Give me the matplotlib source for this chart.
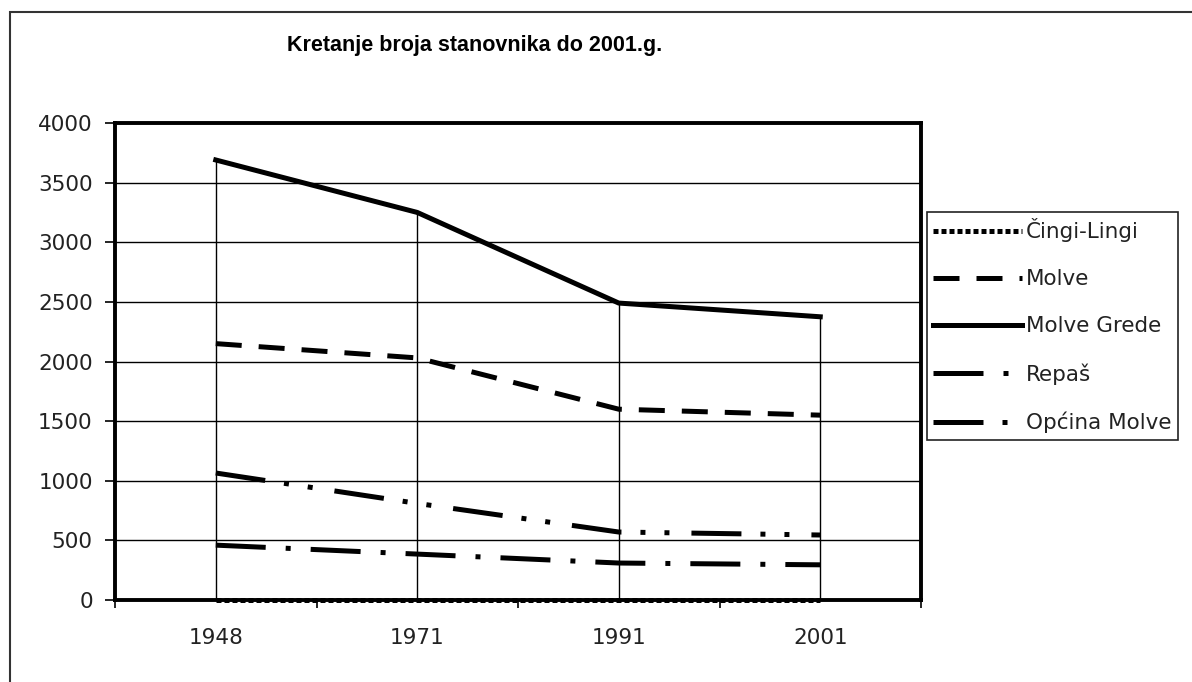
import matplotlib.pyplot as plt
from matplotlib.patches import Rectangle
import numpy as np

plt.rcParams['font.family'] = ['DejaVu Sans']

years = ['1948', '1971', '1991', '2001']
cingi_lingi = [3, 3, 3, 3]
molve = [2150, 2030, 1600, 1550]
molve_grede = [3690, 3250, 2490, 2375]
repas = [460, 385, 310, 295]
opcina_molve = [1065, 810, 570, 545]

fig = plt.figure(figsize=(11.92, 6.82), dpi=100)
fig.patches.append(Rectangle((10 / 1192, -0.1), 1.2, 1 - 12 / 682 + 0.1,
                             transform=fig.transFigure, fill=False,
                             edgecolor='#333333', linewidth=1.5))

ax = fig.add_axes([115 / 1192, 1 - 600 / 682, (921 - 115) / 1192, (600 - 123) / 682])
x = np.arange(len(years))

# grid and drop lines
for v in range(500, 4000, 500):
    ax.axhline(v, color='black', linewidth=1, zorder=1)
tops = np.max([cingi_lingi, molve, molve_grede, repas, opcina_molve], axis=0)
ax.vlines(x, 0, tops, color='black', linewidth=1, zorder=1)

lw = 3.6
ax.plot(x, cingi_lingi, color='black', linewidth=lw, linestyle=(0, (1, 0.6)),
        label='Čingi-Lingi', zorder=3, clip_on=False)
ax.plot(x, molve, color='black', linewidth=lw, linestyle=(0, (5.2, 3.4)),
        label='Molve', zorder=3)
ax.plot(x, molve_grede, color='black', linewidth=lw, linestyle='-',
        label='Molve Grede', zorder=3)
ax.plot(x, repas, color='black', linewidth=lw, linestyle=(0, (10, 4, 1, 4)),
        label='Repaš', zorder=3)
ax.plot(x, opcina_molve, color='black', linewidth=lw,
        linestyle=(0, (10, 3.8, 1, 3.8, 1, 4.4)), label='Općina Molve', zorder=3)

ax.set_xlim(-0.5, 3.5)
ax.set_ylim(0, 4000)
ax.set_yticks(np.arange(0, 4001, 500))
ax.set_xticks(x)
ax.set_xticklabels(years)
ax.set_xticks(np.arange(-0.5, 3.6, 1), minor=True)
ax.tick_params(axis='x', which='major', length=0, pad=20, labelsize=15.5,
               labelcolor='#222222')
ax.tick_params(axis='x', which='minor', length=6, width=1.2, direction='out')
ax.tick_params(axis='y', length=7, width=1.2, direction='out', pad=9,
               labelsize=15.5, labelcolor='#222222')
for s in ax.spines.values():
    s.set_linewidth(2.8)

fig.text(475 / 1192, 1 - 45 / 682, 'Kretanje broja stanovnika do 2001.g.',
         ha='center', va='center', fontsize=15.5, fontweight='bold',
         family='Liberation Sans')

leg = fig.legend(loc='upper left', bbox_to_anchor=(927 / 1192, 1 - 212 / 682),
                 fontsize=15.5, handlelength=4.1, handletextpad=0.2,
                 borderaxespad=0, borderpad=0.3, labelspacing=1.25,
                 fancybox=False, framealpha=1)
leg.get_frame().set_edgecolor('#222222')
leg.get_frame().set_linewidth(1.2)
for t in leg.get_texts():
    t.set_color('#222222')

fig.savefig('out.png', dpi=100)
